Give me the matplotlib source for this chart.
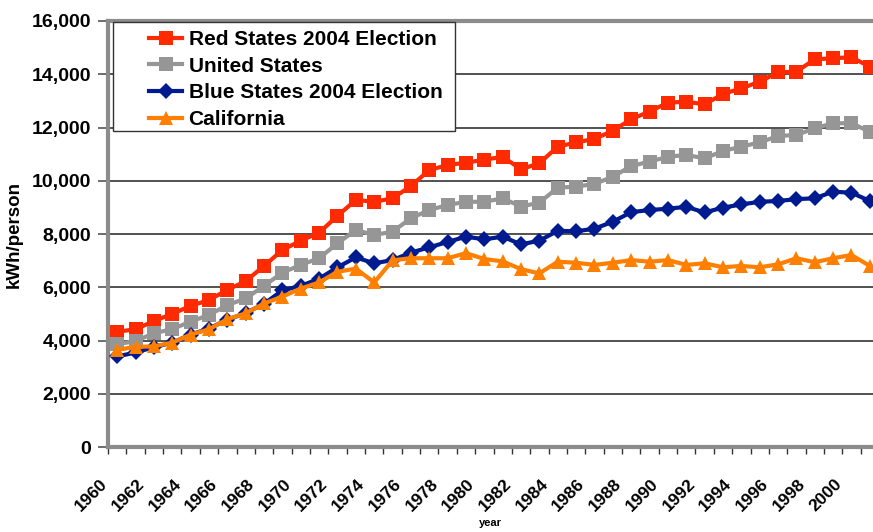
import matplotlib
matplotlib.use("Agg")
import matplotlib.pyplot as plt
import matplotlib.transforms as mtransforms
from matplotlib.patches import Rectangle
from matplotlib.ticker import FuncFormatter, MultipleLocator

plt.rcParams['font.family'] = ['Liberation Sans', 'DejaVu Sans']
plt.rcParams['font.weight'] = 'bold'

years = list(range(1960, 2002))

red_states = [4330, 4420, 4730, 5000, 5300, 5520, 5900, 6230, 6800, 7400,
              7750, 8050, 8680, 9280, 9210, 9340, 9800, 10400, 10590, 10680,
              10790, 10900, 10430, 10660, 11280, 11440, 11570, 11880, 12310, 12600,
              12930, 12970, 12870, 13260, 13470, 13720, 14070, 14100, 14560, 14600,
              14640, 14280]
united_states = [3860, 3980, 4270, 4430, 4710, 4960, 5330, 5580, 6050, 6550,
                 6840, 7090, 7650, 8150, 7960, 8090, 8590, 8900, 9090, 9210,
                 9210, 9340, 9030, 9180, 9740, 9780, 9880, 10150, 10550, 10720,
                 10900, 10970, 10840, 11120, 11280, 11440, 11680, 11720, 11970, 12160,
                 12160, 11840]
blue_states = [3400, 3550, 3750, 3920, 4220, 4450, 4780, 5030, 5380, 5880,
               6050, 6320, 6750, 7120, 6900, 7020, 7300, 7500, 7700, 7900,
               7800, 7900, 7610, 7750, 8120, 8100, 8200, 8460, 8820, 8900,
               8950, 9020, 8810, 8990, 9110, 9210, 9240, 9310, 9340, 9590,
               9550, 9240]
california = [3650, 3760, 3780, 3920, 4220, 4420, 4800, 5020, 5390, 5650,
              5950, 6180, 6580, 6700, 6180, 7010, 7090, 7090, 7090, 7280,
              7060, 6970, 6680, 6520, 6960, 6920, 6840, 6920, 7020, 6960,
              7020, 6840, 6900, 6750, 6800, 6750, 6860, 7090, 6940, 7090,
              7210, 6800]

series_labels = ["Red States 2004 Election", "United States",
                 "Blue States 2004 Election", "California"]
series_values = [red_states, united_states, blue_states, california]
series_colors = ["#ff2a00", "#969696", "#001a8f", "#ff8000"]
series_markers = ["s", "s", "D", "^"]
series_msizes = [9.5, 9.5, 8, 10]

fig = plt.figure(figsize=(8.73, 5.32), dpi=100)
W, H = 873, 532
left_px, right_px, top_px, bottom_px = 108, 879, 21, 447
ax = fig.add_axes([left_px / W, 1 - bottom_px / H,
                   (right_px - left_px) / W, (bottom_px - top_px) / H])

x = list(range(len(years)))
handles = []
for vals, lab, col, mk, ms in zip(series_values, series_labels, series_colors,
                                  series_markers, series_msizes):
    h, = ax.plot(x, vals, color=col, lw=3, marker=mk, markersize=ms,
                 markeredgewidth=0, label=lab, solid_joinstyle='round', zorder=3)
    handles.append(h)

ax.set_xlim(-0.5, len(years) - 0.5)
ax.set_ylim(0, 16000)

# y axis
ax.yaxis.set_major_locator(MultipleLocator(2000))
ax.yaxis.set_major_formatter(FuncFormatter(lambda v, p: f"{int(v):,}"))
ax.tick_params(axis='y', direction='out', length=7, width=1.2, color='#555555',
               labelsize=14, pad=5)
ax.grid(axis='y', color='#222222', lw=1.1, zorder=1)
ax.set_axisbelow(True)

# x axis: labels every two years at category centers, ticks between categories
label_pos = [i for i, yr in enumerate(years) if yr % 2 == 0]
ax.set_xticks(label_pos)
ax.set_xticklabels([str(years[i]) for i in label_pos])
ax.set_xticks([i - 0.5 for i in range(len(years) + 1)], minor=True)
ax.tick_params(axis='x', which='major', length=0, labelsize=12.5, pad=25)
ax.tick_params(axis='x', which='minor', direction='out', length=5, width=1,
               color='#333333')
offset = mtransforms.ScaledTranslation(-12 / 100, 0, fig.dpi_scale_trans)
for lbl in ax.get_xticklabels():
    lbl.set_rotation(45)
    lbl.set_rotation_mode('anchor')
    lbl.set_ha('right')
    lbl.set_va('center')
    lbl.set_transform(lbl.get_transform() + offset)

for side in ['left', 'bottom', 'top']:
    ax.spines[side].set_color('#8c8c8c')
    ax.spines[side].set_linewidth(3)
ax.spines['right'].set_visible(False)

ax.set_ylabel("kWh/person", fontsize=13.5, fontweight='bold')
ax.yaxis.set_label_coords((23 - left_px) / (right_px - left_px), 0.5)
fig.text(490 / W, 1 - 523 / H, "year", fontsize=8, fontweight='bold',
         ha='center', va='center')

# legend with a thin box
leg_l, leg_t, leg_r, leg_b = 113, 22, 455, 131
fig.patches.append(Rectangle((leg_l / W, 1 - leg_b / H), (leg_r - leg_l) / W,
                             (leg_b - leg_t) / H, transform=fig.transFigure,
                             facecolor='white', edgecolor='#333333', lw=1,
                             zorder=5))
leg = fig.legend(handles=handles, loc='upper left',
                 bbox_to_anchor=(149 / W, 1 - 30 / H), frameon=False,
                 prop={'size': 15, 'weight': 'bold'}, handlelength=1.6,
                 handletextpad=0.3, labelspacing=0.37, borderpad=0,
                 borderaxespad=0)
leg.set_zorder(6)

fig.savefig("out.png", dpi=100)
